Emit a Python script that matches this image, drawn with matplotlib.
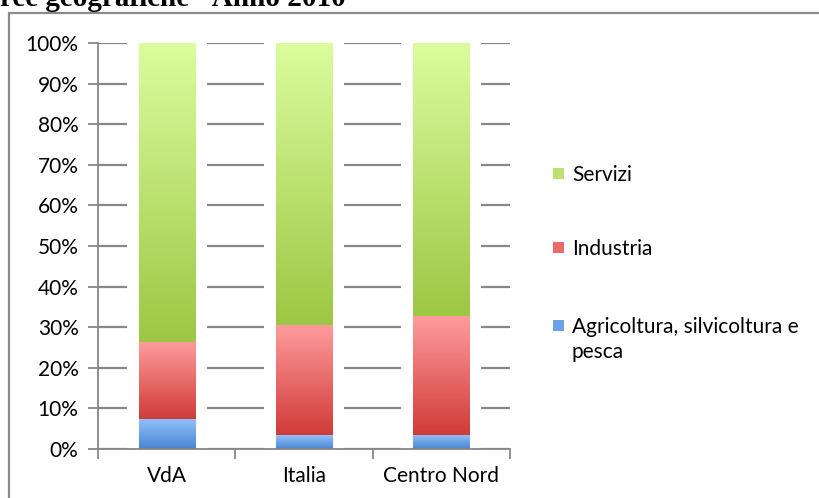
import matplotlib
matplotlib.use("Agg")
import matplotlib.pyplot as plt
import numpy as np
from matplotlib.patches import Rectangle
from matplotlib.colors import LinearSegmentedColormap

categories = ["VdA", "Italia", "Centro Nord"]
agricoltura = [7.4, 3.4, 3.5]
industria = [19.0, 27.1, 29.3]
servizi = [73.6, 69.5, 67.2]
series_names = ["Agricoltura, silvicoltura e\npesca", "Industria", "Servizi"]
yticks = [0, 10, 20, 30, 40, 50, 60, 70, 80, 90, 100]
title = "ree geografiche - Anno 2010"

grad = {
    "Agricoltura": ("#4a85d3", "#93c1fb"),
    "Industria": ("#d03b38", "#ff9c9c"),
    "Servizi": ("#9cc743", "#dcfc9e"),
}
mid = {"Agricoltura": "#6ea2e8", "Industria": "#e86c6a", "Servizi": "#bde071"}

plt.rcParams['font.family'] = ['Lato', 'DejaVu Sans']
FS = 15

fig = plt.figure(figsize=(8.2, 4.98), dpi=100)
ax = fig.add_axes([98/820, 1-449/498, 412/820, 406/498])

x = np.arange(len(categories))
bw = 0.41
gray = "#878787"

# white gaps around bars
ax.bar(x, [100.6]*3, width=bw + 24/137.3, color="white", zorder=2, linewidth=0)

bottoms = np.zeros(3)
for key, vals in [("Agricoltura", agricoltura), ("Industria", industria), ("Servizi", servizi)]:
    bars = ax.bar(x, vals, bottom=bottoms, width=bw, color=mid[key], zorder=3, linewidth=0)
    cmap = LinearSegmentedColormap.from_list(key, [grad[key][0], grad[key][1]])
    g = np.linspace(0, 1, 256).reshape(-1, 1)
    for p in bars.patches:
        x0, y0 = p.get_x(), p.get_y()
        w, h = p.get_width(), p.get_height()
        im = ax.imshow(g, cmap=cmap, origin="lower", aspect="auto",
                       extent=[x0, x0 + w, y0, y0 + h], zorder=4, interpolation="bilinear")
        im.set_clip_path(p)
    bottoms = bottoms + np.array(vals)

ax.set_xlim(-0.5, 2.5)
ax.set_ylim(0, 100)
ax.set_yticks(yticks)
ax.set_yticklabels([f"{t}%" for t in yticks])
ax.yaxis.grid(True, color=gray, linewidth=1.6, zorder=1)
ax.set_axisbelow(True)
ax.set_xticks([-0.5, 0.5, 1.5, 2.5], minor=False)
ax.set_xticklabels([])
ax.set_xticks(x, minor=True)
ax.set_xticklabels(categories, minor=True)
ax.tick_params(axis="x", which="minor", length=0, pad=12, labelsize=FS)
ax.tick_params(axis="x", which="major", length=7, width=1.3, color=gray, direction="out")
ax.tick_params(axis="y", length=7, width=1.3, color=gray, direction="out", pad=7, labelsize=FS)
for s in ["top", "right"]:
    ax.spines[s].set_visible(False)
for s in ["left", "bottom"]:
    ax.spines[s].set_color(gray)
    ax.spines[s].set_linewidth(1.3)
    ax.spines[s].set_zorder(5)

# legend (manual, figure coordinates)
leg_items = [("Servizi", series_names[2], 174), ("Industria", series_names[1], 248),
             ("Agricoltura", series_names[0], 326)]
for key, label, ypx in leg_items:
    fig.patches.append(Rectangle((553/820, 1-(ypx+5)/498), 11/820, 11/498,
                                 transform=fig.transFigure, facecolor=mid[key], edgecolor="none"))
    fig.text(572/820, 1-(ypx-9)/498, label, fontsize=FS, va="top", ha="left", linespacing=1.3)

# outer border
fig.patches.append(Rectangle((9/820, -0.05), 1.0, 1-13/498+0.05, transform=fig.transFigure,
                             facecolor="none", edgecolor="#8a8a8a", linewidth=1.6))

fig.text(0, 1-6.5/498, title, fontsize=21, fontweight="bold", family="Liberation Serif",
         ha="left", va="baseline")

fig.savefig("out.png", dpi=100)
